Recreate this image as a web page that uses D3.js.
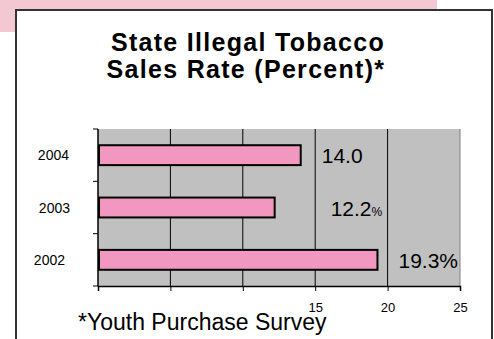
<!DOCTYPE html>
<html>
<head>
<meta charset="utf-8">
<script src="https://cdn.jsdelivr.net/npm/d3@7"></script>
<style>
  body { margin: 0; background: #fff; }
  text { font-family: Arial, "Liberation Sans", sans-serif; fill: #000; }
</style>
</head>
<body>
<div id="chart"></div>
<script>
// data
var years = ["2004", "2003", "2002"];
var rates = [14.0, 12.2, 19.3];
var rateLabels = ["14.0", "12.2", "19.3%"];
var rateSuffix = ["", "%", ""];
var xTicks = [0, 5, 10, 15, 20, 25];
var xTickLabels = ["", "", "", "15", "20", "25"];
var titleLines = ["State Illegal Tobacco", "Sales Rate (Percent)*"];
var footnote = "*Youth Purchase Survey";

var W = 494, H = 339;
var margin = {top: 129, right: 34, bottom: 53, left: 98},
    width = W - margin.left - margin.right,
    height = H - margin.top - margin.bottom;

var svg = d3.select("#chart").append("svg")
    .attr("width", W)
    .attr("height", H);

// pink slide decoration behind the frame
svg.append("rect").attr("x", 0).attr("y", 0).attr("width", 437).attr("height", 32)
    .attr("fill", "#f4c8d3");

// white framed box
svg.append("rect").attr("x", 16).attr("y", 10).attr("width", 476).attr("height", 340)
    .attr("fill", "#fff").attr("stroke", "#333").attr("stroke-width", 2);

// title
svg.selectAll(".title").data(titleLines).enter().append("text")
    .attr("class", "title")
    .attr("x", function(d, i) { return i ? 246 : 248; })
    .attr("y", function(d, i) { return 51 + i * 27; })
    .attr("text-anchor", "middle")
    .style("font-weight", "bold")
    .style("font-size", "25px")
    .style("letter-spacing", "1.3px")
    .text(function(d) { return d; });

var g = svg.append("g")
    .attr("transform", "translate(" + margin.left + "," + margin.top + ")");

// scales
var x = d3.scaleLinear().domain([0, 25]).range([0, width]);
var y = d3.scaleBand().domain(years).range([0, height]).paddingInner(0.62).paddingOuter(0.31);

// plot background
g.append("rect").attr("width", width).attr("height", height).attr("fill", "#c0c0c0");

// vertical gridlines
g.selectAll(".grid").data(xTicks.slice(1, -1)).enter().append("line")
    .attr("x1", function(d) { return x(d); })
    .attr("x2", function(d) { return x(d); })
    .attr("y1", 0).attr("y2", height)
    .attr("stroke", "#000").attr("stroke-width", 1);

// right edge of plot area
g.append("line").attr("x1", width).attr("x2", width).attr("y1", 0).attr("y2", height)
    .attr("stroke", "#808080").attr("stroke-width", 1);

// bars
g.selectAll(".bar").data(rates).enter().append("rect")
    .attr("class", "bar")
    .attr("x", x(0) + 1)
    .attr("y", function(d, i) { return y(years[i]); })
    .attr("width", function(d) { return x(d) - x(0) - 1; })
    .attr("height", y.bandwidth())
    .attr("fill", "#f197c0")
    .attr("stroke", "#000")
    .attr("stroke-width", 2);

// value labels
var labelDx = [21, 56, 21];
var vl = g.selectAll(".val").data(rates).enter().append("text")
    .attr("class", "val")
    .attr("x", function(d, i) { return x(d) + labelDx[i]; })
    .attr("y", function(d, i) { return y(years[i]) + y.bandwidth() / 2 + 8; })
    .style("font-size", "21px");
vl.append("tspan").text(function(d, i) { return rateLabels[i]; });
vl.append("tspan").style("font-size", "12px").text(function(d, i) { return rateSuffix[i]; });

// bottom axis
var xAxis = g.append("g")
    .attr("transform", "translate(0," + height + ")")
    .call(d3.axisBottom(x).tickValues(xTicks)
      .tickFormat(function(d, i) { return xTickLabels[i]; })
      .tickSize(5).tickPadding(12));
xAxis.select(".domain").attr("stroke", "#000").attr("stroke-width", 1.5);
xAxis.selectAll("text").style("font-size", "13px").style("font-family", "Arial, 'Liberation Sans', sans-serif");

// left axis, ticks on band boundaries
g.append("line").attr("x1", 0).attr("x2", 0).attr("y1", 0).attr("y2", height)
    .attr("stroke", "#000").attr("stroke-width", 1.5);
var bounds = d3.range(years.length + 1).map(function(i) { return i * height / years.length; });
g.selectAll(".ytick").data(bounds).enter().append("line")
    .attr("x1", -5).attr("x2", 0)
    .attr("y1", function(d) { return d; }).attr("y2", function(d) { return d; })
    .attr("stroke", "#000");

var yLabelX = [-29, -28, -33];
g.selectAll(".ylab").data(years).enter().append("text")
    .attr("x", function(d, i) { return yLabelX[i]; })
    .attr("y", function(d) { return y(d) + y.bandwidth() / 2 + 5; })
    .attr("text-anchor", "end")
    .style("font-size", "14px")
    .text(function(d) { return d; });

// footnote
svg.append("text")
    .attr("x", 78).attr("y", 330)
    .style("font-size", "23px")
    .text(footnote);
</script>
</body>
</html>
